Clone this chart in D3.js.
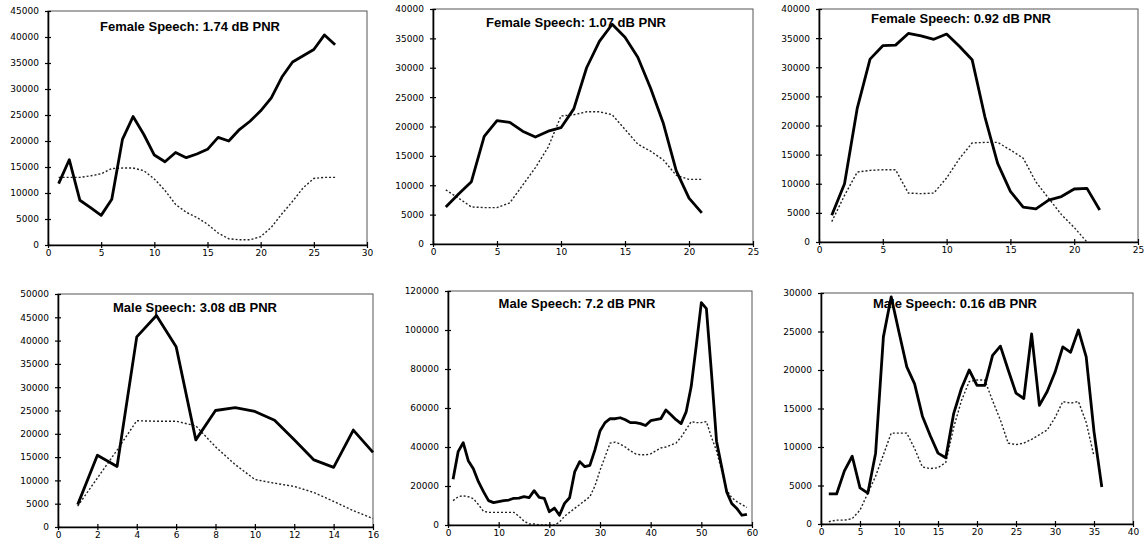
<!DOCTYPE html>
<html>
<head>
<meta charset="utf-8">
<script src="https://cdn.jsdelivr.net/npm/d3@7"></script>
<style>
body { margin: 0; background: #fff; }
svg { display: block; }
</style>
</head>
<body>
<script>
// chart values
var titles = ["Female Speech: 1.74 dB PNR", "Female Speech: 1.07 dB PNR", "Female Speech: 0.92 dB PNR",
              "Male Speech: 3.08 dB PNR", "Male Speech: 7.2 dB PNR", "Male Speech: 0.16 dB PNR"];
var xMax  = [30, 25, 25, 16, 60, 40];
var xStep = [5, 5, 5, 2, 10, 5];
var yMax  = [45000, 40000, 40000, 50000, 120000, 30000];
var yStep = [5000, 5000, 5000, 5000, 20000, 5000];

var speech1 = [11800,16400,8600,7200,5700,8800,20300,24700,21300,17300,16000,17800,16800,17500,18400,
               20700,20000,22200,23800,25800,28300,32300,35200,36400,37600,40400,38500];
var noise1  = [13000,13000,13000,13300,13700,14700,14800,14800,14300,12700,10500,7800,6300,5300,4000,
               2300,1200,1000,1000,1600,3400,6000,8400,11000,12800,13000,13000];

var speech2 = [6300,8500,10600,18300,21000,20700,19200,18200,19200,19800,23000,30000,34500,37400,35200,
               31800,26500,20500,12500,7800,5300];
var noise2  = [9200,7800,6300,6200,6200,7000,10000,13000,16500,21800,22000,22500,22500,22000,19500,
               17000,15800,14300,11700,11000,11000];

var speech3 = [4600,10000,23000,31400,33700,33800,35800,35400,34800,35700,33600,31300,21500,13500,8700,
               6000,5700,7200,7800,9100,9200,5500];
var noise3  = [3500,8000,12000,12300,12400,12400,8400,8300,8400,11000,14300,17000,17100,17100,15800,
               14400,10300,7500,4700,2500,0];

var speech4 = [4800,15400,13000,40800,45400,38700,18700,25000,25600,24800,22900,18700,14400,12800,20800,16000];
var noise4  = [4500,10500,16500,22800,22700,22700,21700,17200,13400,10200,9400,8700,7400,5500,3500,1800];

var speech5 = [23400,37600,42200,33000,28900,22200,17100,12500,11500,12000,12500,12800,13700,13800,14500,
               14000,17600,14200,13700,6800,8700,5000,11100,14000,27200,32500,29900,30600,38500,48200,
               52500,54500,54500,55000,54000,52500,52500,52000,51000,53500,54000,54500,59000,56500,54000,
               52000,58000,71000,92000,114000,111000,78000,43000,30000,17000,11000,8500,5000,5500];
var noise5  = [12500,14500,15000,14500,13500,10500,7000,6500,6500,6500,6500,6500,6500,4500,2000,
               500,500,0,0,0,0,1500,4500,6500,8500,10500,12500,14500,20000,28000,
               35000,42000,42500,41500,40000,38000,36500,36000,36000,36500,38000,39500,40000,41000,42000,
               45000,49000,53000,52500,52500,53000,45000,38000,28000,18000,14000,12000,10500,9000];

var speech6 = [3900,3900,6900,8800,4700,4000,9200,24300,29500,24900,20400,18200,14000,11500,9200,
               8600,14300,17600,20000,18000,18000,21900,23100,20000,17000,16300,24700,15400,17200,19700,
               23000,22300,25200,21700,12000,4800];
var noise6  = [300,500,500,700,1800,4000,6200,9000,11800,11800,11800,9800,7400,7200,7300,
               8000,12500,16000,18500,18700,18700,16000,13500,10500,10300,10500,11000,11600,12200,13800,
               15900,15700,15900,13200,8800];

var speech = [speech1, speech2, speech3, speech4, speech5, speech6];
var noise  = [noise1, noise2, noise3, noise4, noise5, noise6];

// where each plot box sits on the page
var boxes = [
  {l:48,  r:367,  t:11,  b:245, tx:190, ty:31},
  {l:433, r:753,  t:9,   b:244, tx:576, ty:27},
  {l:819, r:1138, t:9,   b:242, tx:961, ty:23},
  {l:58,  r:373,  t:294, b:527, tx:195, ty:312},
  {l:448, r:752,  t:291, b:525, tx:577, ty:308},
  {l:821, r:1133, t:293, b:524, tx:955, ty:308}
];

var svg = d3.select("body").append("svg")
            .attr("width", 1144)
            .attr("height", 547);

var drawPanel = function(i){

  var box = boxes[i];

  var xscale = d3.scaleLinear()
                 .domain([0, xMax[i]])
                 .range([box.l, box.r]);

  var yscale = d3.scaleLinear()
                 .domain([0, yMax[i]])
                 .range([box.b, box.t]);

  var g = svg.append("g");

  // thin frame on top and right
  g.append("rect")
   .attr("x", box.l)
   .attr("y", box.t)
   .attr("width", box.r - box.l)
   .attr("height", box.b - box.t)
   .attr("fill", "none")
   .attr("stroke", "#555")
   .attr("stroke-width", 1);

  var line = d3.line()
               .x(function(d,j){ return xscale(j+1); })
               .y(function(d){ return yscale(d); });

  g.append("path")
   .datum(noise[i])
   .attr("d", line)
   .attr("fill", "none")
   .attr("stroke", "#222")
   .attr("stroke-width", 1.4)
   .attr("stroke-dasharray", "2,2");

  g.append("path")
   .datum(speech[i])
   .attr("d", line)
   .attr("fill", "none")
   .attr("stroke", "#000")
   .attr("stroke-width", 2.8)
   .attr("stroke-linejoin", "round");

  var xaxis = d3.axisBottom(xscale)
                .tickValues(d3.range(0, xMax[i] + 1, xStep[i]))
                .tickSizeInner(3)
                .tickSizeOuter(0)
                .tickPadding(2);

  var yaxis = d3.axisLeft(yscale)
                .tickValues(d3.range(0, yMax[i] + 1, yStep[i]))
                .tickFormat(d3.format("d"))
                .tickSizeInner(3)
                .tickSizeOuter(0)
                .tickPadding(6);

  var gx = g.append("g")
            .attr("transform", "translate(0," + box.b + ")")
            .call(xaxis);
  gx.selectAll(".tick line").attr("y1", -3);

  var gy = g.append("g")
            .attr("transform", "translate(" + box.l + ",0)")
            .call(yaxis);
  gy.selectAll(".tick line").attr("x1", 3);

  [gx, gy].forEach(function(a){
    a.select(".domain").attr("stroke", "#000").attr("stroke-width", 1.6);
    a.selectAll(".tick line").attr("stroke", "#000").attr("stroke-width", 1.2);
    a.selectAll("text")
     .attr("font-family", "DejaVu Sans")
     .attr("font-size", 9)
     .attr("fill", "#000");
  });

  g.append("text")
   .attr("x", box.tx)
   .attr("y", box.ty)
   .attr("text-anchor", "middle")
   .attr("font-family", "Liberation Sans")
   .attr("font-weight", "bold")
   .attr("font-size", 13)
   .text(titles[i]);
}

for (var i = 0; i < titles.length; i++) {
  drawPanel(i);
}
</script>
</body>
</html>
